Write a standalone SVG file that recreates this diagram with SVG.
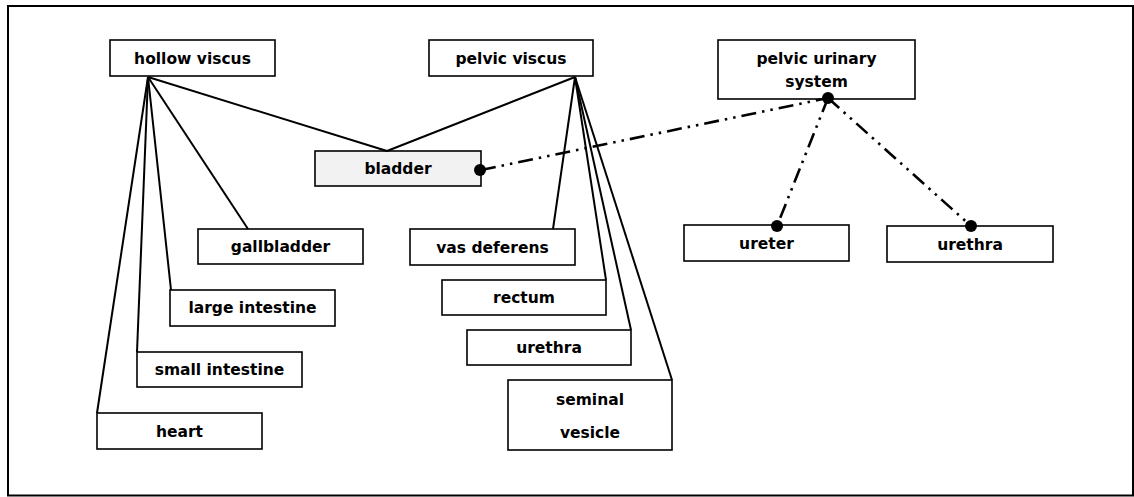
<svg xmlns="http://www.w3.org/2000/svg" width="1134" height="497" viewBox="0 0 1134 497">
<defs>
<style>
.box{fill:#fff;stroke:#000;stroke-width:1.6}
.shade{fill:#f2f2f2;stroke:#000;stroke-width:1.6}
.lbl{font-family:"DejaVu Sans",sans-serif;font-weight:bold;font-size:15.5px;fill:#000;text-anchor:middle}
.solid{stroke:#000;stroke-width:2;fill:none}
.dd{stroke:#000;stroke-width:2.6;fill:none;stroke-dasharray:15 6 2.5 6 2.5 6}
.dot{fill:#000}
</style>
</defs>
<rect x="0" y="0" width="1134" height="497" fill="#fff"/>
<rect x="8" y="6" width="1125" height="489.5" fill="none" stroke="#000" stroke-width="2"/>
<g id="hollow-viscus"><rect class="box" x="110" y="40" width="165" height="36"/><text class="lbl" x="192.5" y="64">hollow viscus</text></g>
<g id="pelvic-viscus"><rect class="box" x="429" y="40" width="164" height="36"/><text class="lbl" x="511" y="64">pelvic viscus</text></g>
<g id="pelvic-urinary-system"><rect class="box" x="718" y="40" width="197" height="59"/><text class="lbl" x="816.5" y="64">pelvic urinary</text><text class="lbl" x="816.5" y="87">system</text></g>
<g id="bladder"><rect class="shade" x="315" y="151" width="166" height="35"/><text class="lbl" x="398" y="174">bladder</text></g>
<g id="gallbladder"><rect class="box" x="198" y="229" width="165" height="35"/><text class="lbl" x="280.5" y="252">gallbladder</text></g>
<g id="large-intestine"><rect class="box" x="170" y="290" width="165" height="36"/><text class="lbl" x="252.5" y="313">large intestine</text></g>
<g id="small-intestine"><rect class="box" x="137" y="352" width="165" height="35"/><text class="lbl" x="219.5" y="375">small intestine</text></g>
<g id="heart"><rect class="box" x="97" y="413" width="165" height="36"/><text class="lbl" x="179.5" y="437">heart</text></g>
<g id="vas-deferens"><rect class="box" x="410" y="229" width="165" height="36"/><text class="lbl" x="492.5" y="253">vas deferens</text></g>
<g id="rectum"><rect class="box" x="442" y="280" width="164" height="35"/><text class="lbl" x="524" y="303">rectum</text></g>
<g id="urethra-pelvic"><rect class="box" x="467" y="330" width="164" height="35"/><text class="lbl" x="549" y="353">urethra</text></g>
<g id="seminal-vesicle"><rect class="box" x="508" y="380" width="164" height="70"/><text class="lbl" x="590" y="405">seminal</text><text class="lbl" x="590" y="438">vesicle</text></g>
<g id="ureter"><rect class="box" x="684" y="225" width="165" height="36"/><text class="lbl" x="766.5" y="249">ureter</text></g>
<g id="urethra-urinary"><rect class="box" x="887" y="226" width="166" height="36"/><text class="lbl" x="970" y="250">urethra</text></g>
<g id="connectors">
<line class="solid" x1="148" y1="77" x2="387" y2="151"/>
<line class="solid" x1="148" y1="77" x2="248" y2="229"/>
<line class="solid" x1="148" y1="77" x2="171" y2="290"/>
<line class="solid" x1="148" y1="77" x2="137" y2="352"/>
<line class="solid" x1="148" y1="77" x2="97" y2="413"/>
<line class="solid" x1="575" y1="77" x2="387" y2="151"/>
<line class="solid" x1="575" y1="77" x2="553" y2="229"/>
<line class="solid" x1="575" y1="77" x2="606" y2="280"/>
<line class="solid" x1="575" y1="77" x2="631" y2="330"/>
<line class="solid" x1="575" y1="77" x2="672" y2="380"/>
<line class="dd" x1="481" y1="170" x2="828" y2="98"/>
<line class="dd" x1="828" y1="98" x2="777" y2="226"/>
<line class="dd" x1="828" y1="98" x2="971" y2="226"/>
<circle class="dot" cx="480" cy="170" r="6"/>
<circle class="dot" cx="828" cy="98" r="6"/>
<circle class="dot" cx="777" cy="226" r="6"/>
<circle class="dot" cx="971" cy="226" r="6"/>
</g>
</svg>
